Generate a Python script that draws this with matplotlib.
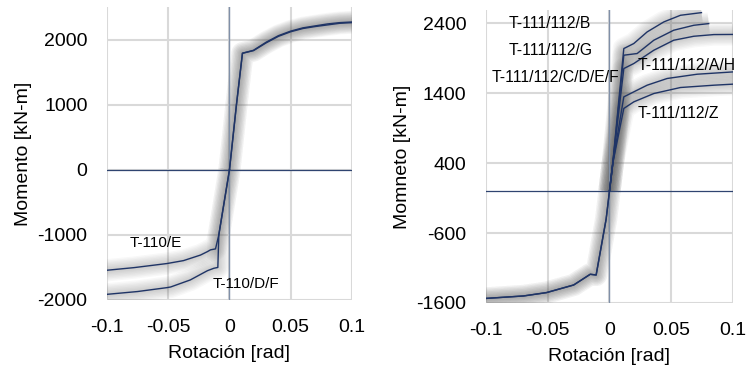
import matplotlib
matplotlib.use("Agg")
import matplotlib.pyplot as plt

plt.rcParams['font.family'] = ['Liberation Sans', 'DejaVu Sans']
plt.rcParams['axes.unicode_minus'] = False

# ---- Left chart data (T-110) ----
l_pos_x = [0, 0.0057, 0.0106, 0.0196, 0.03, 0.04, 0.05, 0.06, 0.07, 0.08, 0.09, 0.1]
l_pos_y = [0, 1000, 1790, 1835, 1960, 2060, 2130, 2180, 2210, 2240, 2260, 2270]
l_pos2_y = [0, 1000, 1790, 1830, 1950, 2050, 2120, 2170, 2200, 2225, 2250, 2260]

l_E_x = [0, -0.0087, -0.0114, -0.0155, -0.018, -0.0237, -0.0375, -0.051, -0.078, -0.1]
l_E_y = [0, -1000, -1215, -1230, -1257, -1310, -1395, -1440, -1503, -1543]

l_DF_x = [0, -0.0087, -0.0095, -0.0128, -0.018, -0.032, -0.048, -0.051, -0.075, -0.1]
l_DF_y = [0, -1000, -1500, -1513, -1550, -1692, -1800, -1810, -1870, -1913]

# ---- Right chart data (T-111/112) ----
r_neg_x = [0, -0.0027, -0.0108, -0.0156, -0.029, -0.051, -0.0696, -0.1]
r_neg_y = [0, -400, -1200, -1190, -1343, -1452, -1500, -1535]

r_B_x = [0, 0.0027, 0.0116, 0.0197, 0.0305, 0.044, 0.0575, 0.0745]
r_B_y = [0, 400, 2038, 2110, 2276, 2419, 2514, 2552]

r_G_x = [0, 0.0027, 0.0116, 0.0224, 0.0359, 0.052, 0.0683, 0.0804]
r_G_y = [0, 400, 1943, 1967, 2157, 2300, 2371, 2395]

r_AH_x = [0, 0.0027, 0.0116, 0.0197, 0.0359, 0.052, 0.0683, 0.0845, 0.1]
r_AH_y = [0, 400, 1752, 1824, 2014, 2157, 2214, 2238, 2240]

r_C_x = [0, 0.0027, 0.0116, 0.0197, 0.0305, 0.0467, 0.071, 0.1]
r_C_y = [0, 400, 1347, 1419, 1514, 1610, 1671, 1704]

r_Z_x = [0, 0.0027, 0.0116, 0.0197, 0.0359, 0.0575, 0.0845, 0.1]
r_Z_y = [0, 400, 1181, 1276, 1395, 1481, 1514, 1529]

x_ticks = [-0.1, -0.05, 0, 0.05, 0.1]
x_ticklabels = ['-0.1', '-0.05', '0', '0.05', '0.1']
l_y_ticks = [-2000, -1000, 0, 1000, 2000]
r_y_ticks = [-1600, -600, 400, 1400, 2400]

LINE = '#1f3466'
GRID = '#d9d9d9'


def curve(ax, x, y):
    for lw in range(16, 1, -2):
        ax.plot(x, y, color='#606060', lw=lw, alpha=0.045, solid_capstyle='butt',
                solid_joinstyle='round', zorder=2)
    ax.plot(x, y, color=LINE, lw=1.0, zorder=4)


def style(ax, yticks, ylim, ylabel):
    ax.set_xlim(-0.1, 0.1)
    ax.set_ylim(*ylim)
    ax.set_xticks(x_ticks)
    ax.set_xticklabels(x_ticklabels)
    ax.set_yticks(yticks)
    ax.set_yticklabels([str(v) for v in yticks])
    ax.grid(True, color=GRID, lw=1.5, zorder=0)
    ax.set_axisbelow(True)
    for s in ax.spines.values():
        s.set_visible(False)
    ax.tick_params(length=0, labelsize=14, pad=14, colors='black')
    ax.axhline(0, color='#2f4470', lw=0.9, zorder=3)
    ax.axvline(0, color='#8090a8', lw=1.0, zorder=3)
    ax.set_xlabel('Rotación [rad]', fontsize=14, labelpad=6)
    ax.set_ylabel(ylabel, fontsize=14, labelpad=4)


fig = plt.figure(figsize=(7.46, 3.69), dpi=100)

ax1 = fig.add_axes([0.1434, 0.187, 0.3284, 0.794])
style(ax1, l_y_ticks, (-2000, 2500), 'Momento [kN-m]')
curve(ax1, l_pos_x, l_pos_y)
curve(ax1, l_pos_x, l_pos2_y)
curve(ax1, l_E_x, l_E_y)
curve(ax1, l_DF_x, l_DF_y)
ax1.text(-0.060, -1123, 'T-110/E', fontsize=11, ha='center', va='center', zorder=5)
ax1.text(0.0136, -1754, 'T-110/D/F', fontsize=11, ha='center', va='center', zorder=5)

ax2 = fig.add_axes([0.6515, 0.179, 0.331, 0.794])
style(ax2, r_y_ticks, (-1600, 2590), 'Momneto [kN-m]')
curve(ax2, r_neg_x, r_neg_y)
curve(ax2, r_neg_x, r_neg_y)
for xs, ys in [(r_B_x, r_B_y), (r_G_x, r_G_y), (r_AH_x, r_AH_y), (r_C_x, r_C_y), (r_Z_x, r_Z_y)]:
    curve(ax2, xs, ys)
ax2.text(-0.048, 2396, 'T-111/112/B', fontsize=11.3, ha='center', va='center', zorder=5)
ax2.text(-0.048, 2004, 'T-111/112/G', fontsize=11.3, ha='center', va='center', zorder=5)
ax2.text(-0.044, 1624, 'T-111/112/C/D/E/F', fontsize=11.3, ha='center', va='center', zorder=5)
ax2.text(0.0621, 1790, 'T-111/112/A/H', fontsize=11.3, ha='center', va='center', zorder=5)
ax2.text(0.0559, 1110, 'T-111/112/Z', fontsize=11.3, ha='center', va='center', zorder=5)

fig.savefig('out.png', dpi=100)
